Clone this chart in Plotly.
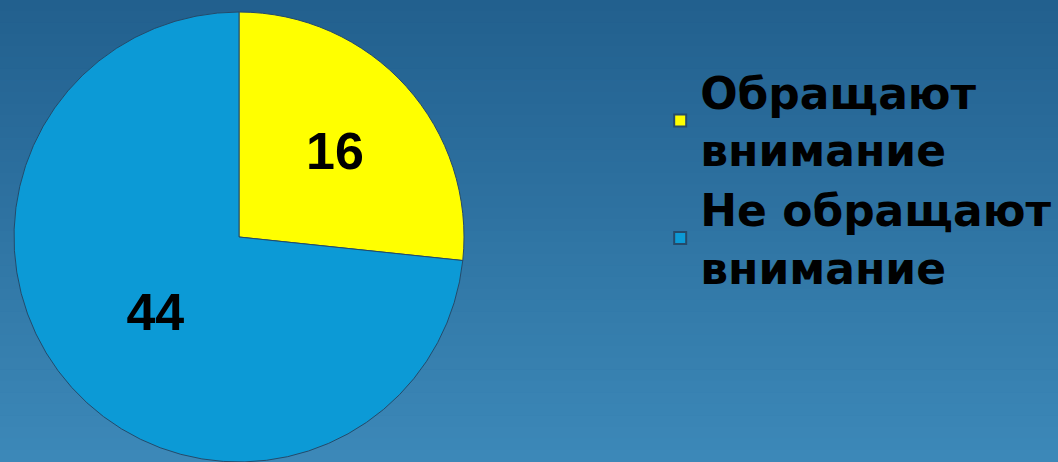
import plotly.graph_objects as go

labels = ["Обращают<br>внимание", "Не обращают<br>внимание"]
values = [16, 44]
colors = ["#ffff00", "#0c9ad6"]

W, H = 1058, 462

fig = go.Figure()
fig.add_trace(go.Pie(
    labels=labels,
    values=values,
    sort=False,
    direction="clockwise",
    rotation=0,
    marker=dict(colors=colors, line=dict(color="#254a6a", width=1)),
    textinfo="value",
    textposition="inside",
    insidetextorientation="horizontal",
    textfont=dict(family="Liberation Sans", size=52, color="#000000", weight="bold"),
    hoverinfo="label+value",
    domain=dict(x=[14 / W, 464 / W], y=[0.0, (H - 12) / H]),
))

# vertical background gradient
top = (34, 96, 142)
bot = (60, 136, 184)
n = 40
shapes = []
for i in range(n):
    t = i / (n - 1)
    c = tuple(round(top[k] + (bot[k] - top[k]) * t) for k in range(3))
    shapes.append(dict(
        type="rect", xref="paper", yref="paper",
        x0=0, x1=1, y0=1 - (i + 1) / n, y1=1 - i / n + 0.001,
        fillcolor="rgb(%d,%d,%d)" % c, line=dict(width=0), layer="below",
    ))

fig.update_layout(
    width=W, height=H,
    margin=dict(l=0, r=0, t=0, b=0),
    paper_bgcolor="rgb(46,116,163)",
    plot_bgcolor="rgba(0,0,0,0)",
    shapes=shapes,
    showlegend=True,
    legend=dict(
        x=0.624, y=0.877, xanchor="left", yanchor="top",
        font=dict(family="DejaVu Sans", size=44, color="#000000", weight="bold"),
        bgcolor="rgba(0,0,0,0)",
        tracegroupgap=2,
        itemsizing="constant",
    ),
)
fig.update_layout(font=dict(family="Liberation Sans"))

fig.write_html(
    "out.html",
    config={"displayModeBar": False},
    post_script="document.body.style.margin='0';document.body.style.overflow='hidden';",
)
